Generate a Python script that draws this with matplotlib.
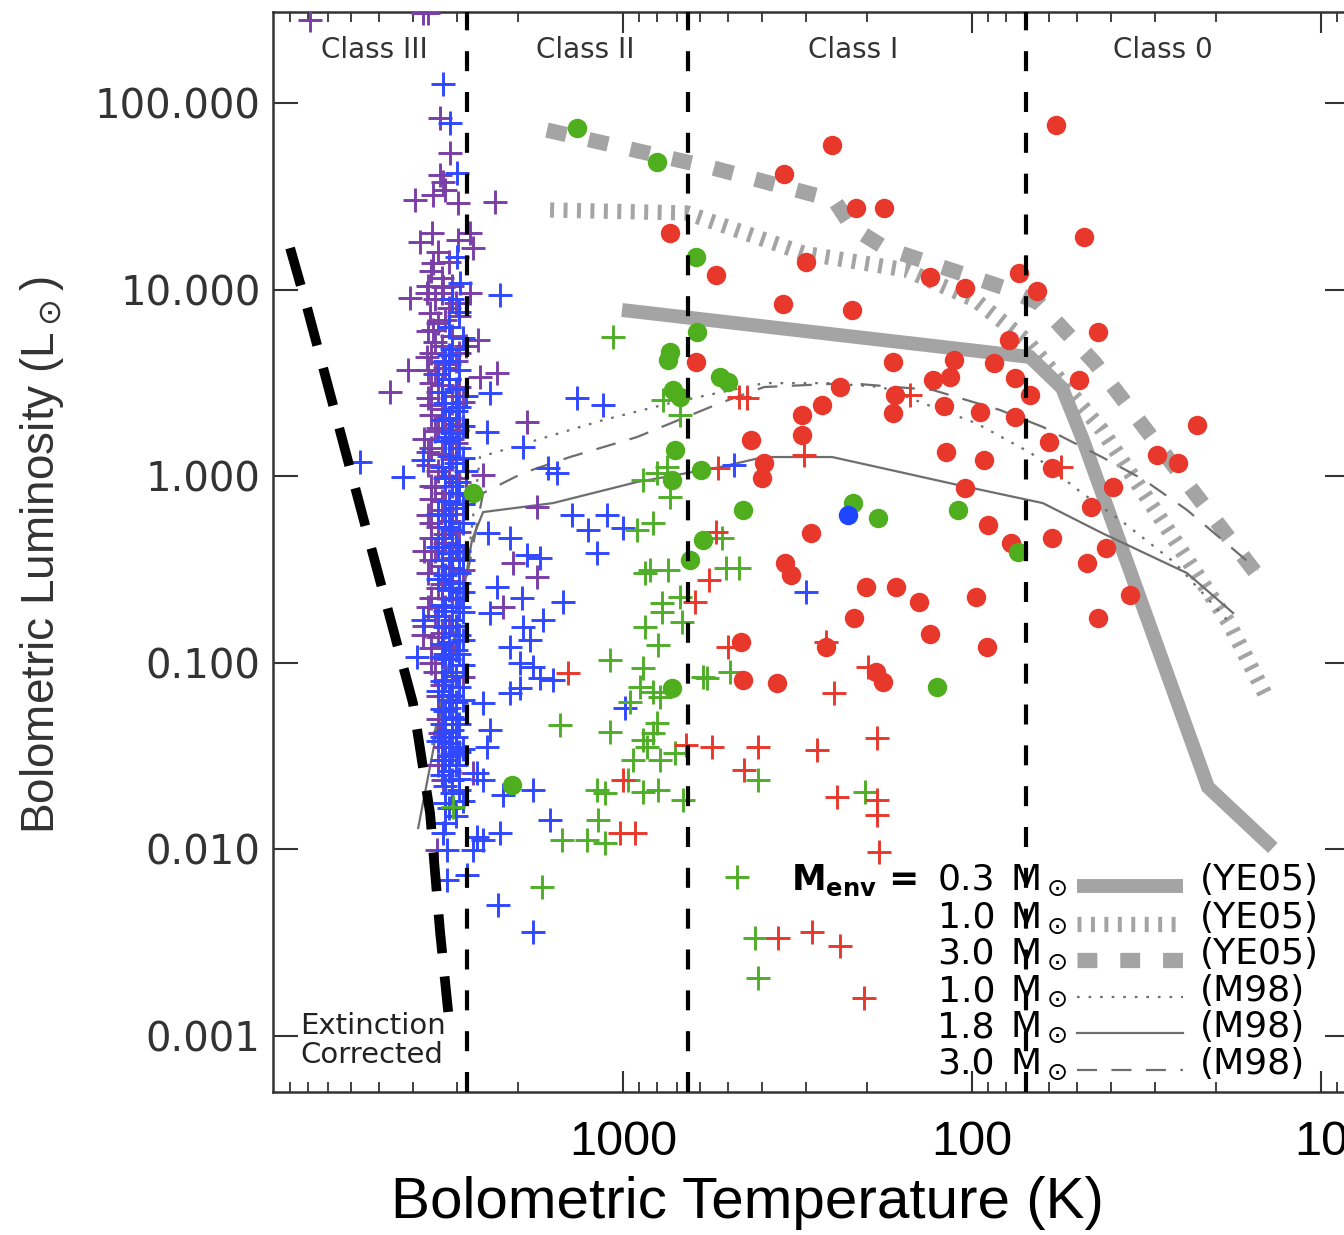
import numpy as np
import matplotlib
matplotlib.use("Agg")
import matplotlib.pyplot as plt
import matplotlib.transforms as mtransforms
from matplotlib.lines import Line2D
from matplotlib.ticker import FixedLocator, FuncFormatter, LogLocator, NullLocator, NullFormatter

# ---------------- data (log10 Tbol [K], log10 Lbol [Lsun]) ----------------
red_circles = [(1.759,1.882),(2.401,1.775),(2.539,1.620),(2.332,1.437),(2.252,1.437),(2.865,1.303),
 (1.679,1.282),(2.734,1.078),(1.865,1.089),(2.120,1.068),(2.020,1.009),(1.814,0.993),(2.476,1.148),
 (2.542,0.923),(2.344,0.891),(1.639,0.773),(2.791,0.612),(2.226,0.612),(2.052,0.623),(1.937,0.607),
 (1.894,0.730),(2.112,0.516),(2.063,0.532),(1.877,0.526),(1.834,0.435),(2.378,0.478),(2.430,0.382),
 (2.487,0.328),(2.221,0.435),(2.226,0.339),(2.080,0.376),(1.977,0.344),(1.877,0.317),(1.694,0.516),
 (1.355,0.274),(2.487,0.221),(2.633,0.194),(1.780,0.183),(2.075,0.130),(1.966,0.087),(1.771,0.044),
 (1.470,0.114),(1.410,0.071),(2.596,0.071),(2.602,-0.010),(1.596,-0.058),(1.659,-0.165),(2.020,-0.063),
 (1.954,-0.262),(2.461,-0.304),(1.771,-0.331),(1.671,-0.465),(1.616,-0.385),(1.888,-0.358),(2.536,-0.465),
 (2.519,-0.529),(2.304,-0.594),(2.218,-0.594),(2.152,-0.674),(1.989,-0.647),(1.639,-0.760),(1.547,-0.637),
 (2.338,-0.760),(2.120,-0.846),(2.662,-0.889),(2.418,-0.915),(1.957,-0.915),(2.656,-1.092),(2.559,-1.108),
 (2.275,-1.049),(2.255,-1.103)]

green_circles = [(3.132,1.866),(2.903,1.684),(2.791,1.175),(2.788,0.773),(2.865,0.666),(2.871,0.623),
 (2.857,0.462),(2.837,0.424),(2.722,0.532),(2.699,0.505),(2.851,0.140),(2.860,-0.020),(2.777,0.033),
 (2.656,-0.181),(2.341,-0.144),(2.269,-0.224),(2.040,-0.181),(2.771,-0.342),(2.808,-0.449),(1.868,-0.406),
 (2.860,-1.135),(2.100,-1.130),(3.318,-1.655),(3.430,-0.090)]

blue_circles = [(2.355,-0.208)]

red_plus = [(2.668,0.424),(2.645,0.419),(2.178,0.435),(2.481,0.114),(2.728,0.044),(1.745,0.049),
 (2.734,-0.299),(2.754,-0.556),(2.794,-0.674),(3.158,-1.055),(2.699,-0.915),(2.418,-0.889),(2.298,-1.022),
 (2.395,-1.162),(2.820,-1.440),(2.745,-1.451),(2.613,-1.451),(2.444,-1.467),(2.272,-1.403),(2.653,-1.574),
 (2.387,-1.719),(2.272,-1.735),(2.272,-1.816),(2.267,-2.014),(3.000,-1.628),(3.009,-1.912),(2.966,-1.912),
 (2.556,-2.475),(2.459,-2.443),(2.378,-2.518),(2.310,-2.796)]

green_plus = [(3.029,0.746),(2.885,0.408),(2.837,0.328),(2.943,-0.020),(2.903,0.017),(2.874,0.049),
 (2.865,-0.111),(2.960,-0.288),(2.914,-0.251),(2.923,-0.503),(2.871,-0.503),(2.716,-0.331),(2.705,-0.492),
 (2.668,-0.492),(2.937,-0.519),(2.837,-0.647),(2.888,-0.680),(2.888,-0.728),(2.937,-0.808),(2.900,-0.905),
 (2.831,-0.781),(2.771,-1.076),(3.037,-0.985),(2.943,-1.028),(2.951,-1.130),(2.914,-1.156),(2.894,-1.183),
 (2.980,-1.210),(2.759,-1.081),(2.693,-1.049),(3.180,-1.333),(3.037,-1.371),(2.903,-1.323),(2.914,-1.376),
 (2.943,-1.414),(2.931,-1.451),(2.971,-1.521),(2.851,-1.483),(2.894,-1.521),(2.986,-1.628),(2.943,-1.692),
 (2.900,-1.682),(3.074,-1.682),(3.052,-1.698),(2.828,-1.735),(3.072,-1.842),(3.487,-1.773),(3.175,-1.950),
 (3.103,-1.950),(3.052,-1.966),(2.613,-1.628),(2.307,-1.692),(2.673,-2.148),(3.232,-2.201),(2.622,-2.475),
 (2.613,-2.689)]

blue_plus = [(3.516,2.102),(3.496,1.893),(3.476,1.625),(3.476,1.175),(3.467,1.035),(3.352,0.971),
 (3.381,0.446),(3.390,0.237),(3.132,0.419),(3.057,0.382),(3.287,0.157),(3.215,0.044),(3.189,0.017),
 (3.753,0.076),(3.630,-0.004),(3.573,0.087),(3.146,-0.208),(3.046,-0.208),(3.100,-0.288),(3.000,-0.278),
 (3.074,-0.412),(3.387,-0.304),(3.324,-0.331),(3.275,-0.422),(3.238,-0.438),(3.361,-0.594),(3.289,-0.653),
 (3.172,-0.674),(3.229,-0.771),(3.381,-0.733),(3.287,-0.808),(3.324,-0.915),(3.266,-0.878),(3.295,-1.001),
 (3.258,-1.022),(3.238,-1.081),(3.201,-1.092),(3.324,-1.162),(3.295,-1.135),(3.381,-1.360),(3.390,-1.451),
 (3.418,-1.591),(3.401,-1.628),(3.344,-1.708),(3.258,-1.682),(3.209,-1.842),(2.994,-1.242),(3.401,-1.215),
 (3.516,-1.912),(3.418,-1.934),(3.352,-1.912),(3.430,-2.003),(3.590,-0.969),(3.573,-0.771),(3.504,-2.003),
 (3.504,-2.164),(3.447,-2.137),(3.358,-2.298),(3.258,-2.443),(3.401,-1.950),(2.682,0.060),(2.476,-0.621),
 # dense Class III column
 (3.49,0.95),(3.47,0.88),(3.50,0.80),(3.46,0.74),(3.49,0.68),(3.51,0.62),(3.47,0.57),(3.50,0.52),
 (3.48,0.47),(3.45,0.43),(3.51,0.39),(3.48,0.35),(3.50,0.31),(3.46,0.27),(3.49,0.23),(3.51,0.19),
 (3.47,0.15),(3.50,0.11),(3.48,0.07),(3.45,0.03),(3.51,-0.01),(3.49,-0.05),(3.47,-0.09),(3.50,-0.13),
 (3.48,-0.17),(3.51,-0.21),(3.46,-0.25),(3.49,-0.29),(3.52,-0.33),(3.48,-0.37),(3.50,-0.41),(3.46,-0.45),
 (3.49,-0.49),(3.51,-0.53),(3.47,-0.57),(3.50,-0.61),(3.48,-0.65),(3.52,-0.69),(3.46,-0.73),(3.49,-0.77),
 (3.51,-0.81),(3.47,-0.85),(3.50,-0.89),(3.48,-0.93),(3.52,-0.97),(3.46,-1.01),(3.49,-1.05),(3.51,-1.09),
 (3.47,-1.13),(3.50,-1.17),(3.48,-1.21),(3.52,-1.25),(3.49,-1.29),(3.47,-1.33),(3.51,-1.37),(3.48,-1.40),
 (3.50,-1.43),(3.46,-1.46),(3.49,-1.49),(3.52,-1.52),(3.48,-1.55),(3.50,-1.58),(3.47,-1.62),(3.51,-1.66),
 (3.49,-1.70),(3.46,-1.74),(3.50,-1.78),(3.48,-1.82),(3.51,-1.86),(3.53,-0.55),(3.46,-0.62),(3.52,-0.90),
 (3.47,-0.95),(3.53,-1.15),(3.46,-1.20),(3.51,-1.26),(3.48,-1.30),(3.53,-1.42),(3.47,-1.48),(3.51,-1.52),
 (3.49,-1.36),(3.52,-1.10),(3.47,-0.70),(3.53,-0.20),(3.46,0.10),(3.52,0.30),(3.53,0.55),
 (3.50,0.65),(3.52,0.45),(3.47,0.37),(3.50,0.21),(3.52,0.05),(3.48,-0.03),(3.50,-0.27),(3.47,-0.40),
 (3.52,-0.45),(3.49,-0.60),(3.51,-0.72),(3.48,-0.80),(3.50,-0.98),(3.48,-1.07),(3.50,-1.24),(3.52,-1.33),
 (3.48,-1.45),(3.50,-1.50),(3.52,-1.60),(3.49,-1.63),(3.47,-1.68),(3.51,-1.75),(3.52,-1.40),(3.49,-1.18),
 (3.51,-0.95),(3.46,-0.88),(3.53,-0.75),(3.47,-0.52),(3.53,-0.38),(3.46,-0.15)]

purple_plus = [(3.897,2.445),(3.573,2.482),(3.559,2.482),(3.524,1.920),(3.496,1.732),(3.524,1.614),
 (3.516,1.577),(3.596,1.480),(3.544,1.507),(3.510,1.534),(3.473,1.464),(3.367,1.469),(3.582,1.255),
 (3.547,1.303),(3.473,1.266),(3.438,1.303),(3.430,1.223),(3.544,1.143),(3.562,0.982),(3.516,1.014),
 (3.438,0.982),(3.610,0.955),(3.553,0.875),(3.544,0.783),(3.415,0.730),(3.562,0.639),(3.616,0.569),
 (3.668,0.451),(3.516,0.612),(3.410,0.532),(3.361,0.553),(3.275,0.290),(3.401,0.006),(3.246,-0.165),
 (3.476,0.248),(3.246,-0.540),(3.315,-0.465),(3.344,-0.701),(3.573,-0.851),(3.516,-0.915),(3.458,-1.076),
 (3.524,-1.376),(3.430,-1.591),(3.516,-1.628),(3.533,-2.003),
 # dense Class III column
 (3.55,1.10),(3.52,1.06),(3.49,1.02),(3.54,0.95),(3.50,0.90),(3.47,0.86),(3.53,0.82),(3.56,0.78),
 (3.49,0.75),(3.52,0.70),(3.55,0.66),(3.48,0.62),(3.51,0.58),(3.54,0.55),(3.50,0.52),(3.47,0.48),
 (3.53,0.45),(3.56,0.42),(3.49,0.39),(3.52,0.36),(3.55,0.33),(3.50,0.30),(3.47,0.27),(3.54,0.24),
 (3.51,0.21),(3.48,0.18),(3.55,0.15),(3.52,0.12),(3.49,0.09),(3.56,0.06),(3.53,0.03),(3.50,0.00),
 (3.47,-0.03),(3.54,-0.06),(3.51,-0.09),(3.55,-0.12),(3.48,-0.15),(3.52,-0.18),(3.56,-0.21),(3.50,-0.24),
 (3.53,-0.27),(3.47,-0.30),(3.55,-0.33),(3.51,-0.36),(3.54,-0.40),(3.49,-0.44),(3.52,-0.48),(3.56,-0.52),
 (3.50,-0.56),(3.53,-0.60),(3.55,-0.65),(3.51,-0.70),(3.54,-0.75),(3.50,-0.80),(3.53,-0.86),(3.55,-0.92),
 (3.51,-0.98),(3.54,-1.05),(3.52,-1.12),(3.50,-1.20),(3.53,-1.30),(3.51,-1.45),(3.53,-1.55),
 (3.45,0.70),(3.46,0.40),(3.57,0.20),(3.45,-0.10),(3.57,-0.40),(3.46,-0.50),(3.57,-0.80),(3.49,-0.95),
 (3.52,0.98),(3.50,1.15),(3.55,0.50),(3.48,0.28),
 (3.53,1.20),(3.56,1.02),(3.48,0.93),(3.51,0.84),(3.54,0.72),(3.47,0.66),(3.50,0.60),(3.56,0.57),
 (3.52,0.49),(3.48,0.43),(3.55,0.38),(3.51,0.31),(3.53,0.26),(3.49,0.20),(3.56,0.13),(3.52,0.05),
 (3.48,-0.01),(3.55,-0.05),(3.52,-0.13),(3.49,-0.20),(3.55,-0.25),(3.51,-0.31),(3.48,-0.38),(3.55,-0.45),
 (3.52,-0.58),(3.49,-0.66),(3.56,-0.70),(3.52,-0.84),(3.55,-1.00),(3.53,-1.18)]

# evolutionary tracks (log10 Tbol, log10 Lbol)
ye05_03_logT = [3.003, 1.834, 1.742, 1.682, 1.324, 1.138]
ye05_03_logL = [0.891, 0.639, 0.473, 0.194, -1.666, -1.992]
ye05_10_logT = [3.209, 2.817, 2.484, 2.189, 1.991, 1.845, 1.748, 1.628, 1.470, 1.264, 1.152]
ye05_10_logL = [1.427, 1.411, 1.196, 1.105, 0.944, 0.730, 0.516, 0.248, -0.197, -0.787, -1.199]
ye05_30_logT = [3.218, 2.742, 2.395, 2.344, 2.249, 1.914, 1.808, 1.648, 1.189]
ye05_30_logL = [1.855, 1.652, 1.480, 1.335, 1.223, 1.014, 0.928, 0.607, -0.513]
m98_10_logT = [3.524, 3.444, 3.410, 3.057, 2.865, 2.596, 2.415, 2.258, 2.112, 1.989, 1.831, 1.685, 1.564, 1.418, 1.261]
m98_10_logL = [-1.440, -0.449, 0.103, 0.301, 0.392, 0.499, 0.499, 0.478, 0.371, 0.285, 0.124, -0.090, -0.251, -0.465, -0.787]
m98_18_logT = [3.587, 3.461, 3.433, 3.401, 3.201, 2.960, 2.722, 2.596, 2.401, 2.232, 2.052, 1.797, 1.628, 1.384, 1.252]
m98_18_logL = [-1.885, -0.663, -0.342, -0.192, -0.144, -0.031, 0.049, 0.103, 0.103, 0.033, -0.042, -0.144, -0.304, -0.519, -0.733]
m98_30_logT = [3.547, 3.438, 3.401, 3.287, 3.152, 2.960, 2.722, 2.596, 2.355, 2.112, 1.920, 1.797, 1.628, 1.507, 1.384, 1.181]
m98_30_logL = [-1.440, -0.449, -0.090, 0.017, 0.103, 0.210, 0.392, 0.478, 0.499, 0.462, 0.355, 0.264, 0.103, -0.020, -0.181, -0.503]
extinction_logT = [3.954, 3.905, 3.733, 3.602, 3.553, 3.524, 3.501]
extinction_logL = [1.223, 0.901, -0.304, -1.215, -1.805, -2.448, -2.871]

class_bounds = [2800, 650, 70]
class_labels = ["Class III", "Class II", "Class I", "Class 0"]
class_label_T = [5160, 1280, 219, 28.4]

yticks = [100, 10, 1, 0.1, 0.01, 0.001]
xticks = [1000, 100, 10]

legend_mass = ["0.3", "1.0", "3.0", "1.0", "1.8", "3.0"]
legend_ref = ["(YE05)", "(YE05)", "(YE05)", "(M98)", "(M98)", "(M98)"]

# ---------------- styles ----------------
GRAY_T = "#a4a4a4"
GRAY_D = "#6e6e6e"
track_styles = [
    dict(color=GRAY_T, lw=10, ls="-", solid_capstyle="butt", solid_joinstyle="miter"),
    dict(color=GRAY_T, lw=11, ls=(0, (0.26, 0.62))),
    dict(color=GRAY_T, lw=11, ls=(0, (1.3, 1.5))),
    dict(color=GRAY_D, lw=1.6, ls=(0, (1.2, 4.0))),
    dict(color=GRAY_D, lw=1.6, ls="-"),
    dict(color=GRAY_D, lw=1.6, ls=(0, (9, 6.5))),
]
tracks = [(ye05_03_logT, ye05_03_logL), (ye05_10_logT, ye05_10_logL), (ye05_30_logT, ye05_30_logL),
          (m98_10_logT, m98_10_logL), (m98_18_logT, m98_18_logL), (m98_30_logT, m98_30_logL)]

W, H = 1344, 1235
fig = plt.figure(figsize=(W / 100, H / 100), dpi=100)
ax = fig.add_axes([273 / W, (H - 1092) / H, (1350 - 273) / W, (1092 - 12) / H])
ax.set_xscale("log")
ax.set_yscale("log")
ax.set_xlim(10 ** 4.003, 10 ** 0.917)
ax.set_ylim(10 ** -3.300, 10 ** 2.488)

def unz(pairs):
    a = np.array(pairs, dtype=float)
    return 10 ** a[:, 0], 10 ** a[:, 1]

# tracks
for (lt, ll), st in zip(tracks, track_styles):
    ax.plot(10 ** np.array(lt), 10 ** np.array(ll), zorder=2, **st)

# scatter points
pk = dict(ls="none", marker="+", ms=17, mew=2.1, zorder=3)
ax.plot(*unz(purple_plus), color="#7a3ea8", **pk)
ax.plot(*unz(blue_plus), color="#3048ff", **pk)
ax.plot(*unz(green_plus), color="#4fae28", **pk)
ax.plot(*unz(red_plus), color="#e8382b", **pk)
ck = dict(ls="none", marker="o", ms=14, mew=0, zorder=4)
ax.plot(*unz(red_circles), color="#e8382b", **ck)
ax.plot(*unz(green_circles), color="#4fae1e", **ck)
ax.plot(*unz(blue_circles), color="#1e46ff", **ck)

# extinction line
ax.plot(10 ** np.array(extinction_logT), 10 ** np.array(extinction_logL), color="black", lw=7,
        ls=(0, (4.0, 2.4)), dash_capstyle="butt", zorder=6)

# class boundaries
for t in class_bounds:
    ax.axvline(t, color="black", lw=3, ls=(0, (4.8, 5.0)), zorder=6)

trans = mtransforms.blended_transform_factory(ax.transData, ax.transAxes)
for lab, t in zip(class_labels, class_label_T):
    ax.text(t, (1092 - 50) / 1080, lab, transform=trans, ha="center", va="center",
            fontsize=20, color="#333333", family="DejaVu Sans")

# axes styling
for s in ax.spines.values():
    s.set_linewidth(1.8)
    s.set_color("#333333")
ax.yaxis.set_major_locator(FixedLocator(yticks))
ax.yaxis.set_major_formatter(FuncFormatter(lambda v, p: "%.3f" % v))
ax.yaxis.set_minor_locator(NullLocator())
ax.xaxis.set_major_locator(FixedLocator(xticks))
ax.xaxis.set_major_formatter(FuncFormatter(lambda v, p: "%d" % v))
ax.xaxis.set_minor_locator(LogLocator(base=10, subs=np.arange(2, 10)))
ax.xaxis.set_minor_formatter(NullFormatter())
ax.tick_params(axis="both", which="both", direction="in", top=True, right=True, color="#333333")
ax.tick_params(axis="y", which="major", length=18, width=1.5, labelsize=29, pad=9, labelcolor="#333333")
ax.tick_params(axis="x", which="major", length=15, width=1.5, labelsize=35, pad=20)
ax.tick_params(axis="x", which="minor", length=7, width=1.3)
for lb in ax.get_xticklabels():
    lb.set_family("Liberation Sans")
for lb in ax.get_yticklabels():
    lb.set_family("DejaVu Sans")

# axis titles
fig.text(747 / W, 1 - 1203 / H, "Bolometric Temperature (K)", ha="center", va="center",
         fontsize=42, family="Liberation Sans")
fig.text(42 / W, 1 - 555 / H, r"Bolometric Luminosity (L$_\odot$)", rotation=90, ha="center",
         va="center", fontsize=33, family="Liberation Sans", color="#333333")

# extinction note
fig.text(300 / W, 1 - 1026 / H, "Extinction", ha="left", va="center", fontsize=21, color="#222222")
fig.text(300 / W, 1 - 1055 / H, "Corrected", ha="left", va="center", fontsize=21, color="#222222")

# legend block
line_y = [886, 924, 960, 997, 1033, 1070]
fig.text(791 / W, 1 - 890 / H, r"M$_{\mathbf{env}}$", ha="left", va="baseline", fontsize=25,
         fontweight="bold", color="black")
fig.text(903 / W, 1 - 890 / H, "=", ha="center", va="baseline", fontsize=26,
         fontweight="bold", color="black")
for m, r, st, ly in zip(legend_mass, legend_ref, track_styles, line_y):
    by = 1 - (ly + 4) / H
    fig.text(995 / W, by, m, ha="right", va="baseline", fontsize=26, color="black")
    fig.text(1010 / W, by, r"M$_\odot$", ha="left", va="baseline", fontsize=26, color="black")
    fig.text(1200 / W, by, r, ha="left", va="baseline", fontsize=26, color="black")
    fig.add_artist(Line2D([1077 / W, 1183 / W], [1 - ly / H, 1 - ly / H], transform=fig.transFigure, **st))

fig.savefig("out.png", dpi=100)
